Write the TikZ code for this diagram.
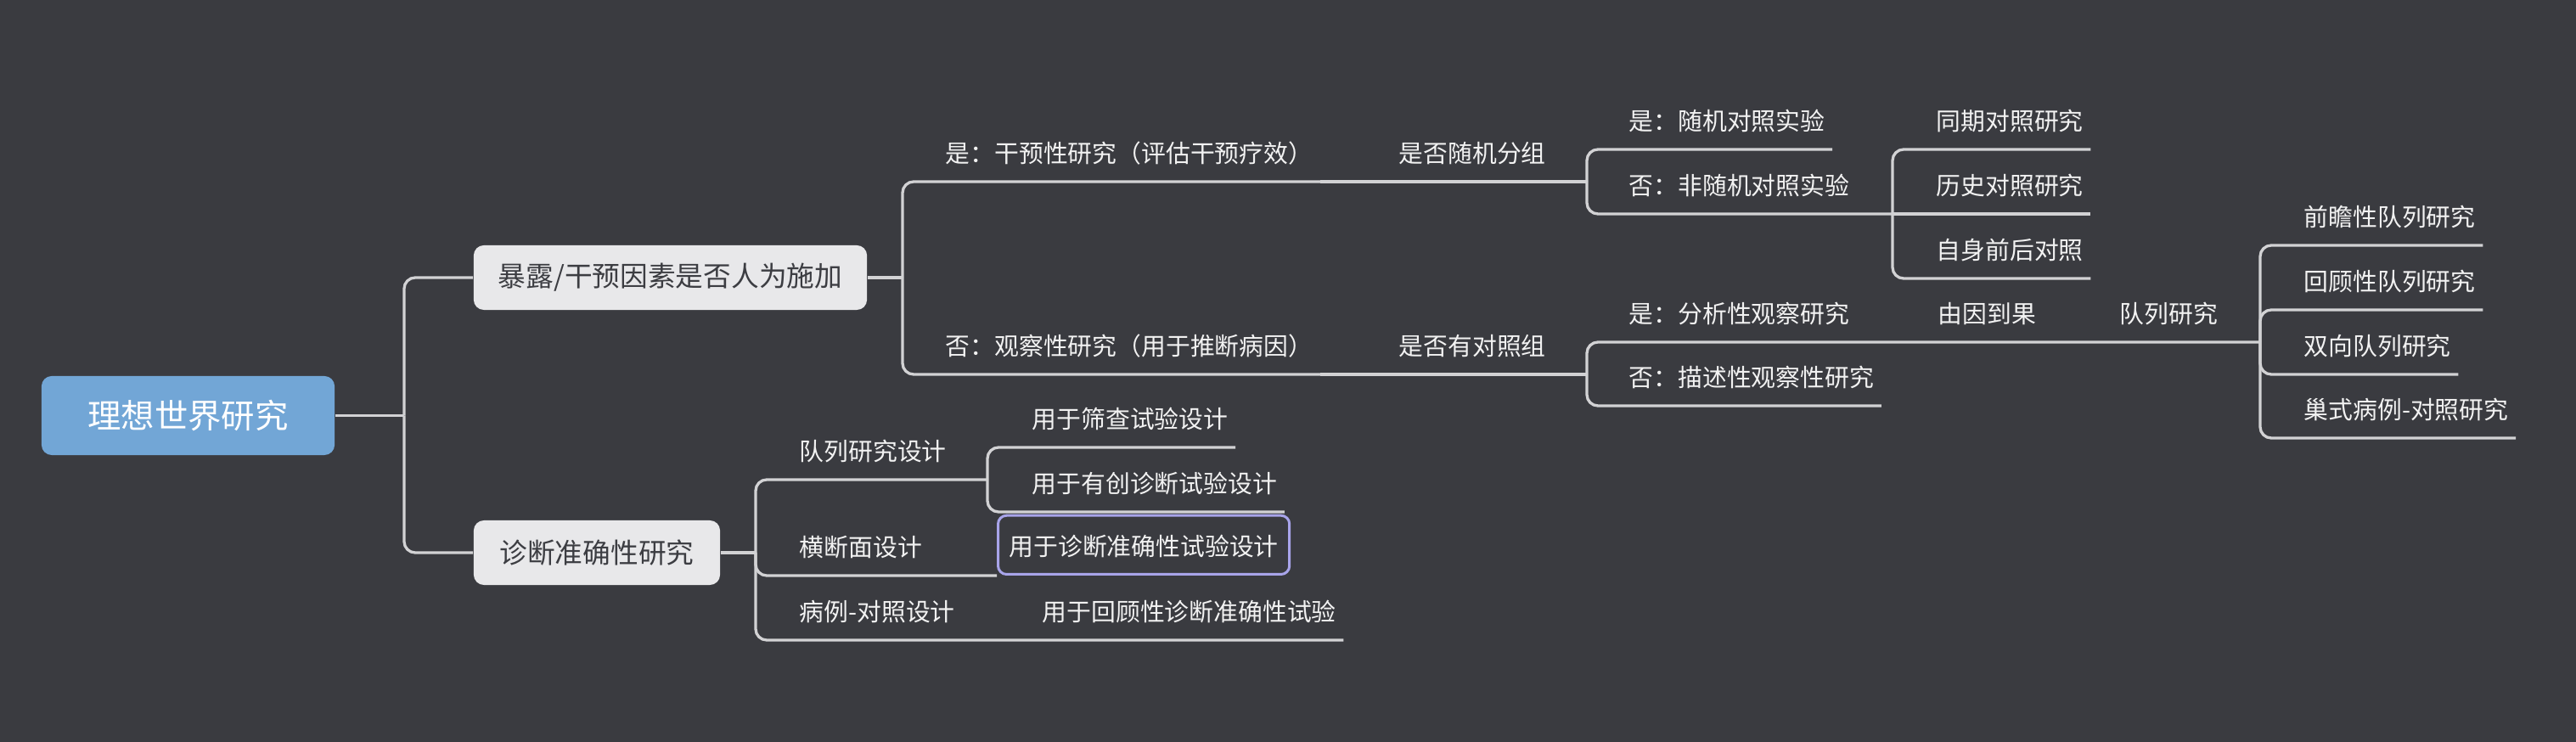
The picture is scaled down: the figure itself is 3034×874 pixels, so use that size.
\documentclass[tikz,border=0pt]{standalone}
\usepackage{fontspec}
\usepackage{xcolor}
\newfontfamily\cjk{Noto Sans CJK SC}
\definecolor{bg}{HTML}{3A3B40}
\definecolor{lnk}{HTML}{D2D2D4}
\definecolor{txt}{HTML}{F2F2F2}
\definecolor{box}{HTML}{E8E8EA}
\definecolor{boxtxt}{HTML}{3C3D42}
\definecolor{rootfill}{HTML}{72A6D6}
\definecolor{lav}{HTML}{A8A4EA}
\newcommand{\topicFont}{\cjk\fontsize{8.2}{9}\selectfont}

\begin{document}
\begin{tikzpicture}[x=0.01cm,y=-0.01cm,
  link/.style={draw=lnk, line width=0.033cm, rounded corners=0.13cm},
  topic/.style={anchor=south west, inner xsep=0.08cm, inner ysep=0pt, text height=0.9em, text depth=0.62em, text=txt, font=\topicFont},
  focus/.style={anchor=south west, draw=lav, line width=0.03cm, rounded corners=0.1cm, inner xsep=0.13cm, inner ysep=0pt, text height=1.35em, text depth=0.62em, text=txt, font=\topicFont},
  branch/.style={fill=box, text=boxtxt, rounded corners=0.12cm, inner sep=0pt, minimum height=0.76cm, font=\cjk\fontsize{9.3}{11}\selectfont},
  rootbox/.style={fill=rootfill, text=white, rounded corners=0.12cm, inner sep=0pt, minimum width=3.45cm, minimum height=0.93cm, font=\cjk\fontsize{11.2}{13}\selectfont}]
\fill[bg] (0,0) rectangle (3034,874);
\useasboundingbox (0,0) rectangle (3034,874);
\node[rootbox] (root) at (221.5,489.5) {理想世界研究};
\node[branch, minimum width=4.63cm] (expo) at (789.5,327) {暴露/干预因素是否人为施加};
\node[branch, minimum width=2.9cm] (diag) at (703,651) {诊断准确性研究};
\node[topic] (q1) at (1105,214) {是：干预性研究（评估干预疗效）};
\node[topic] (r1) at (1639,214) {是否随机分组};
\node[topic] (q2) at (1105,441) {否：观察性研究（用于推断病因）};
\node[topic] (r2) at (1639,441) {是否有对照组};
\node[topic] (s1) at (1910,176) {是：随机对照实验};
\node[topic] (s2) at (1910,252) {否：非随机对照实验};
\node[topic] (u1) at (2272,176) {同期对照研究};
\node[topic] (u2) at (2272,252) {历史对照研究};
\node[topic] (u3) at (2272,328) {自身前后对照};
\node[topic] (s3) at (1910,403) {是：分析性观察研究};
\node[topic] (s4) at (1910,478) {否：描述性观察性研究};
\node[topic] (v1) at (2274,403) {由因到果};
\node[topic] (v2) at (2488,403) {队列研究};
\node[topic] (w1) at (2705,289) {前瞻性队列研究};
\node[topic] (w2) at (2705,365) {回顾性队列研究};
\node[topic] (w3) at (2705,441) {双向队列研究};
\node[topic] (w4) at (2705,516) {巢式病例-对照研究};
\node[topic] (d1) at (933,565) {队列研究设计};
\node[topic] (d2) at (933,678) {横断面设计};
\node[topic] (d3) at (933,754) {病例-对照设计};
\node[topic] (e1) at (1207,527) {用于筛查试验设计};
\node[topic] (e2) at (1207,603) {用于有创诊断试验设计};
\node[focus] (e3) at (1174,678) {用于诊断准确性试验设计};
\node[topic] (e4) at (1219,754) {用于回顾性诊断准确性试验};
\coordinate (k0) at (476,489.5);
\coordinate (k1) at (1063,327);
\coordinate (k2) at (1869,214);
\coordinate (k3) at (2229,252);
\coordinate (k4) at (1869,441);
\coordinate (k5) at (2662,403);
\coordinate (k6) at (890,651);
\coordinate (k7) at (1163,565);
\draw[link] (root.east) -- (k0);
\draw[link] (k0) |- (expo.west);
\draw[link] (k0) |- (diag.west);
\draw[link] (expo.east) -- (k1);
\draw[link] (k1) |- (q1.south west) -- (q1.south east);
\draw[link] (k1) |- (q2.south west) -- (q2.south east);
\draw[link] (q1.south east) -- (r1.south west) -- (r1.south east) -- (k2);
\draw[link] (q2.south east) -- (r2.south west) -- (r2.south east) -- (k4);
\draw[link] (k2) |- (s1.south west) -- (s1.south east);
\draw[link] (k2) |- (s2.south west) -- (s2.south east) -- (k3);
\draw[link] (k3) |- (u1.south west) -- (u1.south east);
\draw[link] (k3) -- (u2.south west) -- (u2.south east);
\draw[link] (k3) |- (u3.south west) -- (u3.south east);
\draw[link] (k4) |- (s3.south west) -- (s3.south east) -- (v1.south west) -- (v1.south east) -- (v2.south west) -- (v2.south east) -- (k5);
\draw[link] (k4) |- (s4.south west) -- (s4.south east);
\draw[link] (k5) |- (w1.south west) -- (w1.south east);
\draw[link] (k5) |- (w2.south west) -- (w2.south east);
\draw[link] (k5) |- (w3.south west) -- (w3.south east);
\draw[link] (k5) |- (w4.south west) -- (w4.south east);
\draw[link] (diag.east) -- (k6);
\draw[link] (k6) |- (d1.south west) -- (d1.south east) -- (k7);
\draw[link] (k6) |- (d2.south west) -- (d2.south east) -- (e3.south west);
\draw[link] (k6) |- (d3.south west) -- (d3.south east) -- (e4.south west) -- (e4.south east);
\draw[link] (k7) |- (e1.south west) -- (e1.south east);
\draw[link] (k7) |- (e2.south west) -- (e2.south east);
\end{tikzpicture}
\end{document}
